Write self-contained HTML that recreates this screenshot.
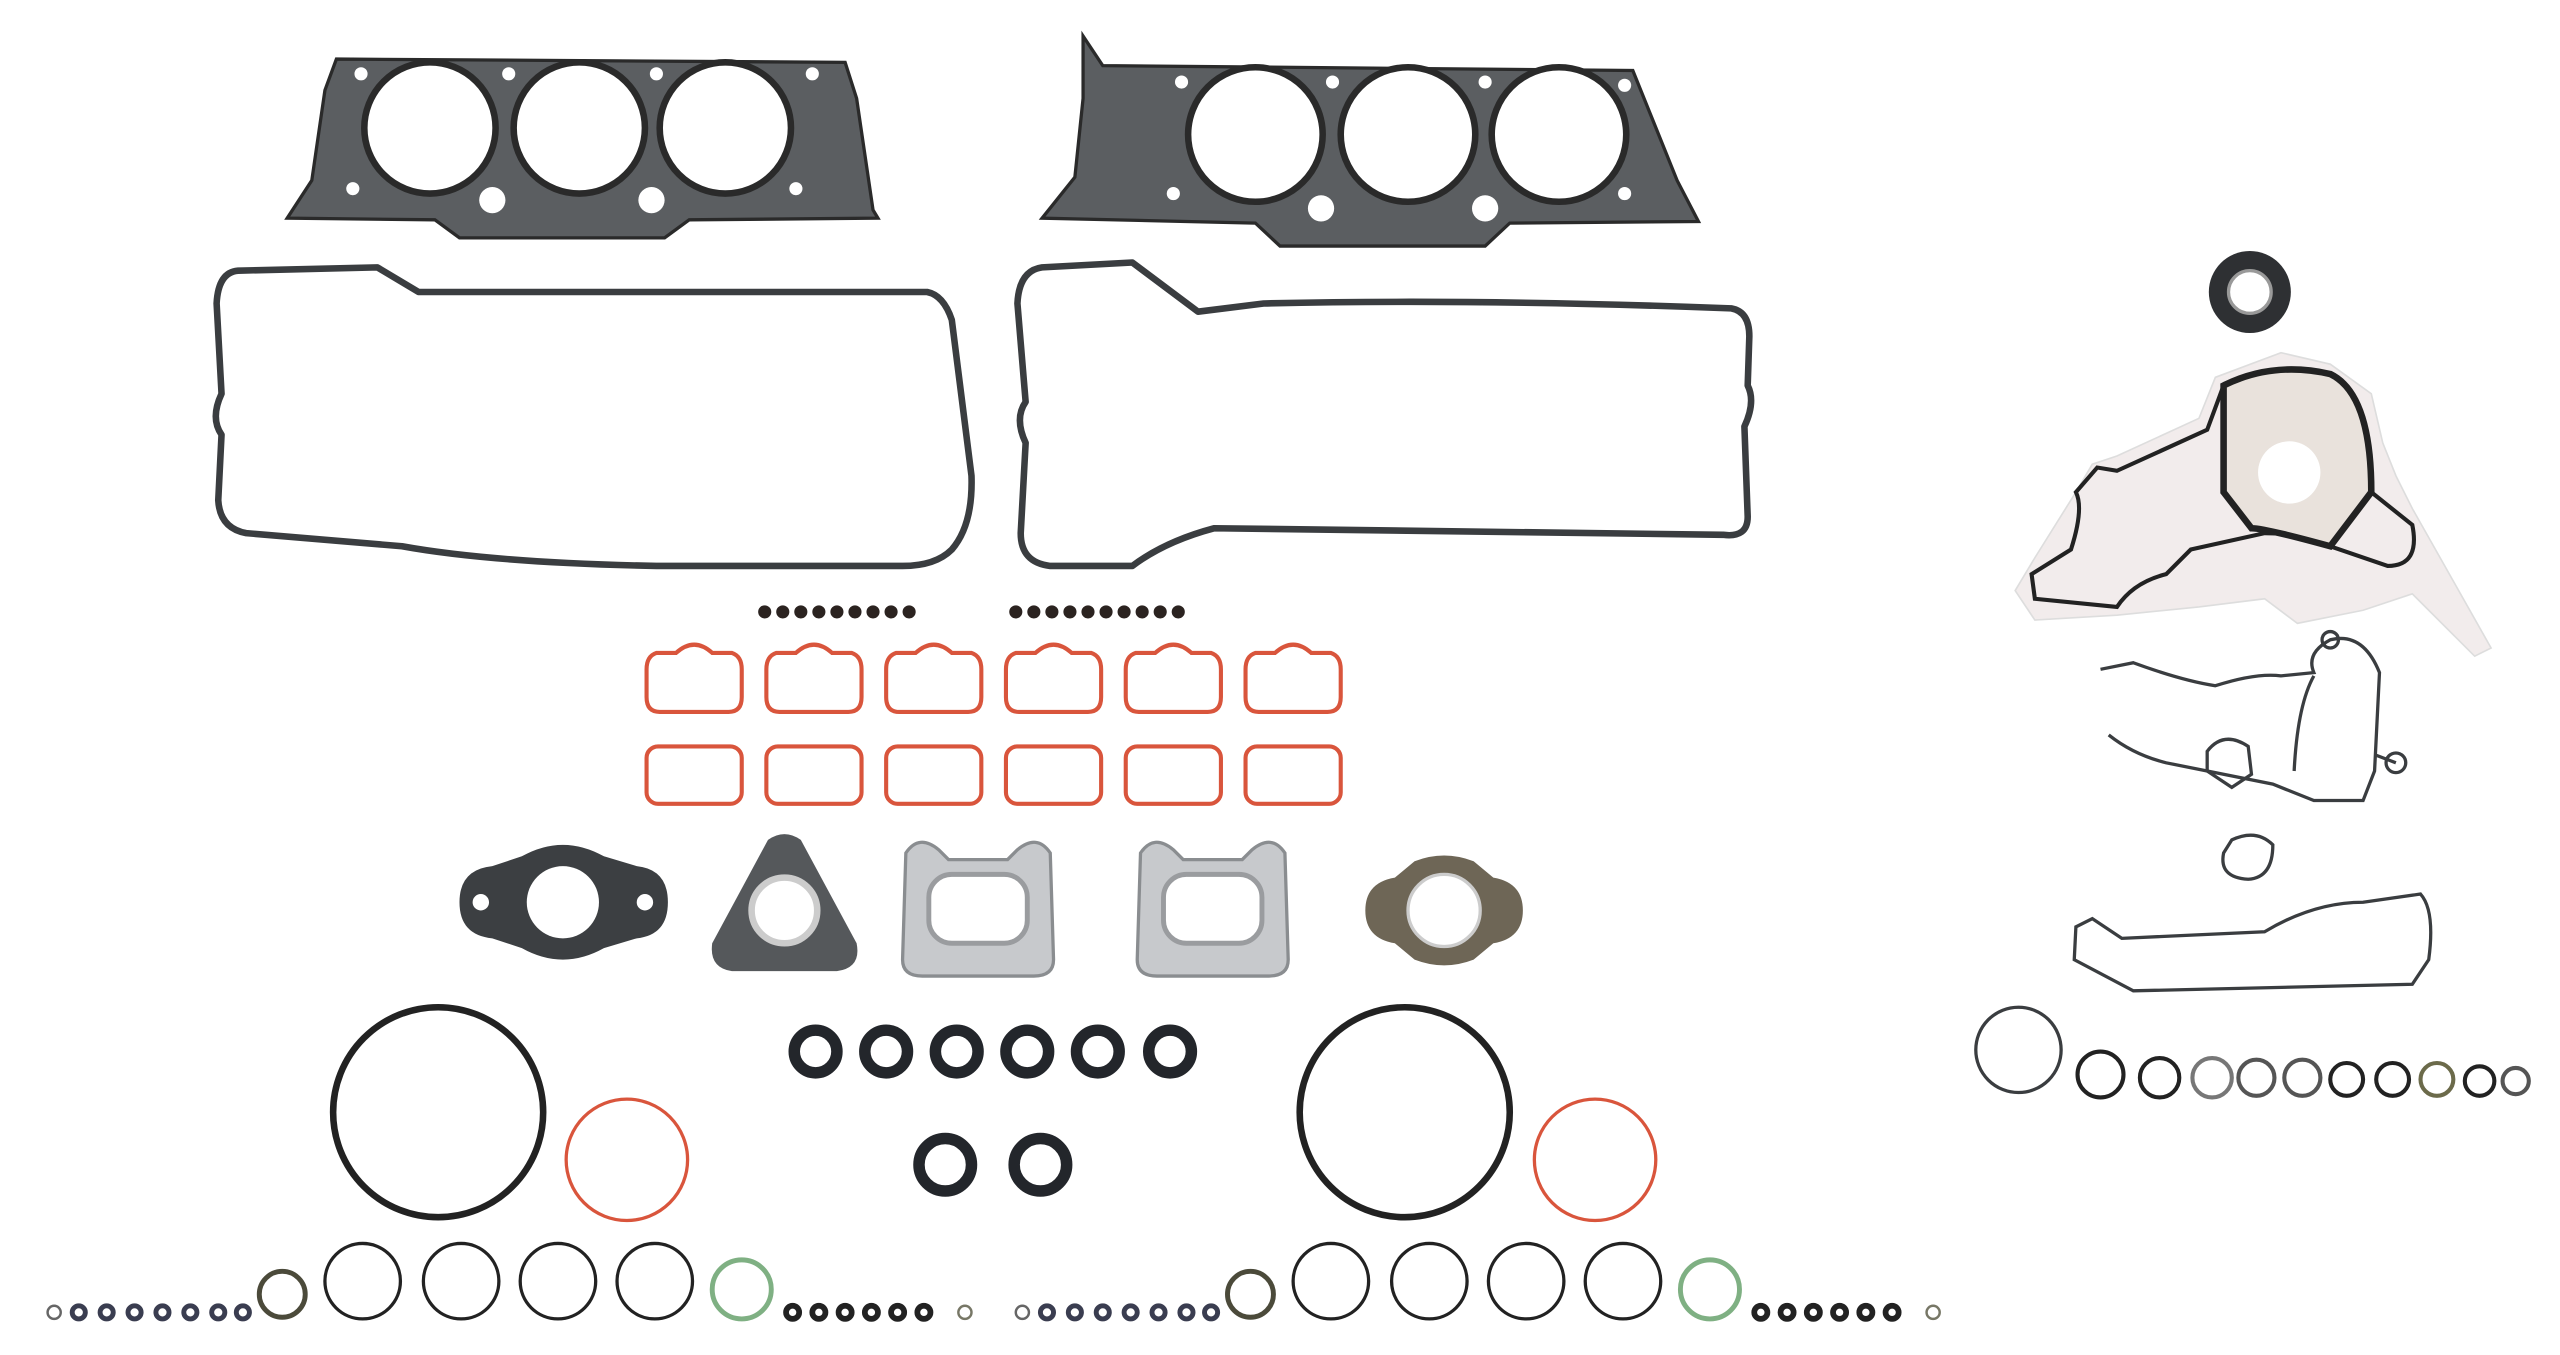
<!DOCTYPE html>
<html><head><meta charset="utf-8"><style>html,body{margin:0;padding:0;background:#fff}svg{display:block}</style></head>
<body>
<svg width="2560" height="1355" viewBox="0 0 1560 826" preserveAspectRatio="none" xmlns="http://www.w3.org/2000/svg">
<rect width="1560" height="826" fill="#fff"/>
<!-- head gaskets -->
<g>
<path d="M205,36 L515,38 L522,60 L532,128 L535,133 L420,134 L405,145 L280,145 L265,134 L175,133 L190,110 L198,55 Z" fill="#5b5e61" stroke="#2a2a2a" stroke-width="2"/>
<g fill="#fff" stroke="#2a2a2a" stroke-width="4">
<circle cx="262" cy="78" r="40"/><circle cx="353" cy="78" r="40"/><circle cx="442" cy="78" r="40"/></g>
<g fill="#fff"><circle cx="300" cy="122" r="8"/><circle cx="397" cy="122" r="8"/><circle cx="220" cy="45" r="4"/><circle cx="310" cy="45" r="4"/><circle cx="400" cy="45" r="4"/><circle cx="495" cy="45" r="4"/><circle cx="215" cy="115" r="4"/><circle cx="485" cy="115" r="4"/></g>
<path d="M660,22 L672,40 L995,43 L1022,110 L1035,135 L920,136 L905,150 L780,150 L765,136 L635,133 L655,108 L660,60 Z" fill="#5b5e61" stroke="#2a2a2a" stroke-width="2"/>
<g fill="#fff" stroke="#2a2a2a" stroke-width="4">
<circle cx="765" cy="82" r="41"/><circle cx="858" cy="82" r="41"/><circle cx="950" cy="82" r="41"/></g>
<g fill="#fff"><circle cx="805" cy="127" r="8"/><circle cx="905" cy="127" r="8"/><circle cx="720" cy="50" r="4"/><circle cx="812" cy="50" r="4"/><circle cx="905" cy="50" r="4"/><circle cx="990" cy="52" r="4"/><circle cx="715" cy="118" r="4"/><circle cx="990" cy="118" r="4"/></g>
</g>
<!-- valve cover gaskets -->
<g fill="none" stroke="#3a3d40" stroke-width="4" stroke-linejoin="round">
<path d="M145,165 L230,163 L255,178 L565,178 Q575,180 580,195 L592,290 Q593,320 580,335 Q570,345 550,345 L400,345 Q300,343 245,333 L150,325 Q134,322 133,305 L135,265 Q128,255 135,240 L132,185 Q133,166 145,165 Z"/>
<path d="M635,163 L690,160 L730,190 L770,185 Q900,182 1055,188 Q1066,190 1066,205 L1065,235 Q1070,245 1063,260 L1065,315 Q1065,328 1050,326 L740,322 Q710,330 690,345 L640,345 Q622,343 622,325 L625,270 Q618,255 625,245 L620,185 Q621,165 635,163 Z"/>
</g>
<!-- valve stem seals -->
<g fill="#2b2320">
<circle cx="466" cy="373" r="4"/><circle cx="477" cy="373" r="4"/><circle cx="488" cy="373" r="4"/><circle cx="499" cy="373" r="4"/><circle cx="510" cy="373" r="4"/><circle cx="521" cy="373" r="4"/><circle cx="532" cy="373" r="4"/><circle cx="543" cy="373" r="4"/><circle cx="554" cy="373" r="4"/>
<circle cx="619" cy="373" r="4"/><circle cx="630" cy="373" r="4"/><circle cx="641" cy="373" r="4"/><circle cx="652" cy="373" r="4"/><circle cx="663" cy="373" r="4"/><circle cx="674" cy="373" r="4"/><circle cx="685" cy="373" r="4"/><circle cx="696" cy="373" r="4"/><circle cx="707" cy="373" r="4"/><circle cx="718" cy="373" r="4"/>
</g>
<!-- intake gaskets -->
<g fill="none" stroke="#d9553c" stroke-width="2.5">
<g id="ig1"><path d="M400,398 L412,398 Q423,388 434,398 L446,398 Q452,400 452,408 L452,425 Q452,434 444,434 L402,434 Q394,434 394,425 L394,408 Q394,400 400,398 Z"/>
<rect x="394" y="455" width="58" height="35" rx="7"/></g>
<use href="#ig1" x="73"/><use href="#ig1" x="146"/><use href="#ig1" x="219"/><use href="#ig1" x="292"/><use href="#ig1" x="365"/>
</g>
<!-- exhaust gaskets -->
<path d="M280,550 Q280,530 300,528 L318,522 Q343,508 368,522 L388,528 Q407,530 407,550 Q407,570 388,572 L368,578 Q343,592 318,578 L300,572 Q280,570 280,550 Z" fill="#3c3f42"/>
<circle cx="343" cy="550" r="22" fill="#fff"/><circle cx="293" cy="550" r="5" fill="#fff"/><circle cx="393" cy="550" r="5" fill="#fff"/>
<path d="M468,512 Q478,505 488,512 L522,575 Q525,590 510,592 L446,592 Q432,590 434,575 Z" fill="#55585b"/>
<circle cx="478" cy="555" r="20" fill="#fff" stroke="#ccc" stroke-width="4"/>
<g id="sx"><path d="M552,520 Q560,508 572,518 L578,524 L614,524 L620,518 Q632,508 640,520 L642,585 Q642,595 630,595 L562,595 Q550,595 550,585 Z" fill="#c7c9cc" stroke="#8a8d90" stroke-width="2"/>
<rect x="566" y="533" width="60" height="42" rx="14" fill="#fff" stroke="#9a9c9f" stroke-width="3"/></g>
<use href="#sx" x="143"/>
<path d="M832,555 Q832,538 850,535 L862,525 Q880,518 898,525 L910,535 Q928,538 928,555 Q928,572 910,575 L898,585 Q880,592 862,585 L850,575 Q832,572 832,555 Z" fill="#6e6656"/>
<circle cx="880" cy="555" r="22" fill="#fff" stroke="#ccc" stroke-width="2"/>
<!-- o-rings mid -->
<g fill="none">
<circle cx="267" cy="678" r="64" stroke="#222" stroke-width="4"/>
<circle cx="382" cy="707" r="37" stroke="#d9553c" stroke-width="2"/>
<circle cx="856" cy="678" r="64" stroke="#222" stroke-width="4"/>
<circle cx="972" cy="707" r="37" stroke="#d9553c" stroke-width="2"/>
<g stroke="#23262b" stroke-width="7">
<circle cx="497" cy="641" r="13"/><circle cx="540" cy="641" r="13"/><circle cx="583" cy="641" r="13"/><circle cx="626" cy="641" r="13"/><circle cx="669" cy="641" r="13"/><circle cx="713" cy="641" r="13"/>
<circle cx="576" cy="710" r="16"/><circle cx="634" cy="710" r="16"/>
</g>
</g>
<!-- bottom row -->
<g fill="none">
<g id="br">
<g stroke="#3a3d50" stroke-width="3">
<circle cx="48" cy="800" r="4"/><circle cx="65" cy="800" r="4"/><circle cx="82" cy="800" r="4"/><circle cx="99" cy="800" r="4"/><circle cx="116" cy="800" r="4"/><circle cx="133" cy="800" r="4"/><circle cx="148" cy="800" r="4"/>
</g>
<circle cx="33" cy="800" r="4" stroke="#666" stroke-width="1.5"/>
<circle cx="172" cy="789" r="14" stroke="#4b4a3a" stroke-width="3"/>
<g stroke="#222" stroke-width="2"><circle cx="221" cy="781" r="23"/><circle cx="281" cy="781" r="23"/><circle cx="340" cy="781" r="23"/><circle cx="399" cy="781" r="23"/></g>
<circle cx="452" cy="786" r="18" stroke="#7fb083" stroke-width="3"/>
<g stroke="#222" stroke-width="3.5"><circle cx="483" cy="800" r="4"/><circle cx="499" cy="800" r="4"/><circle cx="515" cy="800" r="4"/><circle cx="531" cy="800" r="4"/><circle cx="547" cy="800" r="4"/><circle cx="563" cy="800" r="4"/></g>
<circle cx="588" cy="800" r="4" stroke="#776" stroke-width="1.5"/>
</g>
<use href="#br" x="590"/>
</g>
<!-- right side -->
<circle cx="1371" cy="178" r="25" fill="#2e3033"/><circle cx="1371" cy="178" r="13" fill="#fff" stroke="#999" stroke-width="2"/>
<path d="M1228,360 L1240,340 L1265,300 L1275,283 L1290,278 L1340,255 L1350,230 L1390,215 L1420,222 L1445,240 L1452,270 L1460,290 L1470,310 L1518,395 L1508,400 L1470,362 L1440,372 L1400,380 L1380,365 L1340,370 L1290,375 L1240,378 Z" fill="#f2ecec" stroke="#ddd" stroke-width="1"/>
<path d="M1240,365 L1238,350 L1262,335 Q1270,310 1265,300 L1278,285 L1290,287 L1345,262 L1355,235 Q1385,220 1420,228 Q1445,240 1445,300 L1420,333 Q1405,325 1380,325 L1335,335 L1320,350 Q1300,355 1290,370 Z" fill="none" stroke="#222" stroke-width="2.5"/>
<path d="M1355,235 Q1385,220 1420,228 Q1445,240 1445,300 L1420,333 Q1380,322 1372,322 L1355,300 Z" fill="#e9e2dc" stroke="#222" stroke-width="4"/>
<path d="M1445,300 L1470,320 Q1475,345 1455,345 L1420,333" fill="none" stroke="#222" stroke-width="2.5"/>
<circle cx="1395" cy="288" r="19" fill="#fff"/>
<g fill="none" stroke="#3a3d40" stroke-width="2">
<path d="M1280,408 L1300,404 Q1330,415 1350,418 Q1375,410 1390,412 L1410,410 Q1405,398 1420,390 Q1440,385 1450,410 L1447,470 L1440,488 L1410,488 L1385,478 L1345,470 L1320,465 Q1300,460 1285,448"/>
<path d="M1410,412 Q1400,430 1398,470 M1447,460 L1460,465"/>
<circle cx="1420" cy="390" r="5"/><circle cx="1460" cy="465" r="6"/>
<path d="M1345,458 Q1355,445 1370,455 L1372,472 L1360,480 L1345,470 Z"/>
<path d="M1360,512 Q1375,505 1385,515 Q1385,535 1370,536 Q1352,535 1355,520 Z"/>
<path d="M1265,565 L1275,560 L1293,572 L1380,568 Q1410,550 1440,550 L1475,545 Q1484,555 1480,585 L1470,600 L1300,604 L1264,585 Z"/>
<circle cx="1230" cy="640" r="26"/>
</g>
<g fill="none" stroke-width="2.5">
<circle cx="1280" cy="655" r="14" stroke="#222"/><circle cx="1316" cy="657" r="12" stroke="#222"/><circle cx="1348" cy="657" r="12" stroke="#777"/><circle cx="1375" cy="657" r="11" stroke="#555"/><circle cx="1403" cy="657" r="11" stroke="#555"/><circle cx="1430" cy="658" r="10" stroke="#222"/><circle cx="1458" cy="658" r="10" stroke="#222"/><circle cx="1485" cy="658" r="10" stroke="#6b6a4a"/><circle cx="1511" cy="659" r="9" stroke="#222"/><circle cx="1533" cy="659" r="8" stroke="#555"/>
</g>
</svg>
</body></html>
